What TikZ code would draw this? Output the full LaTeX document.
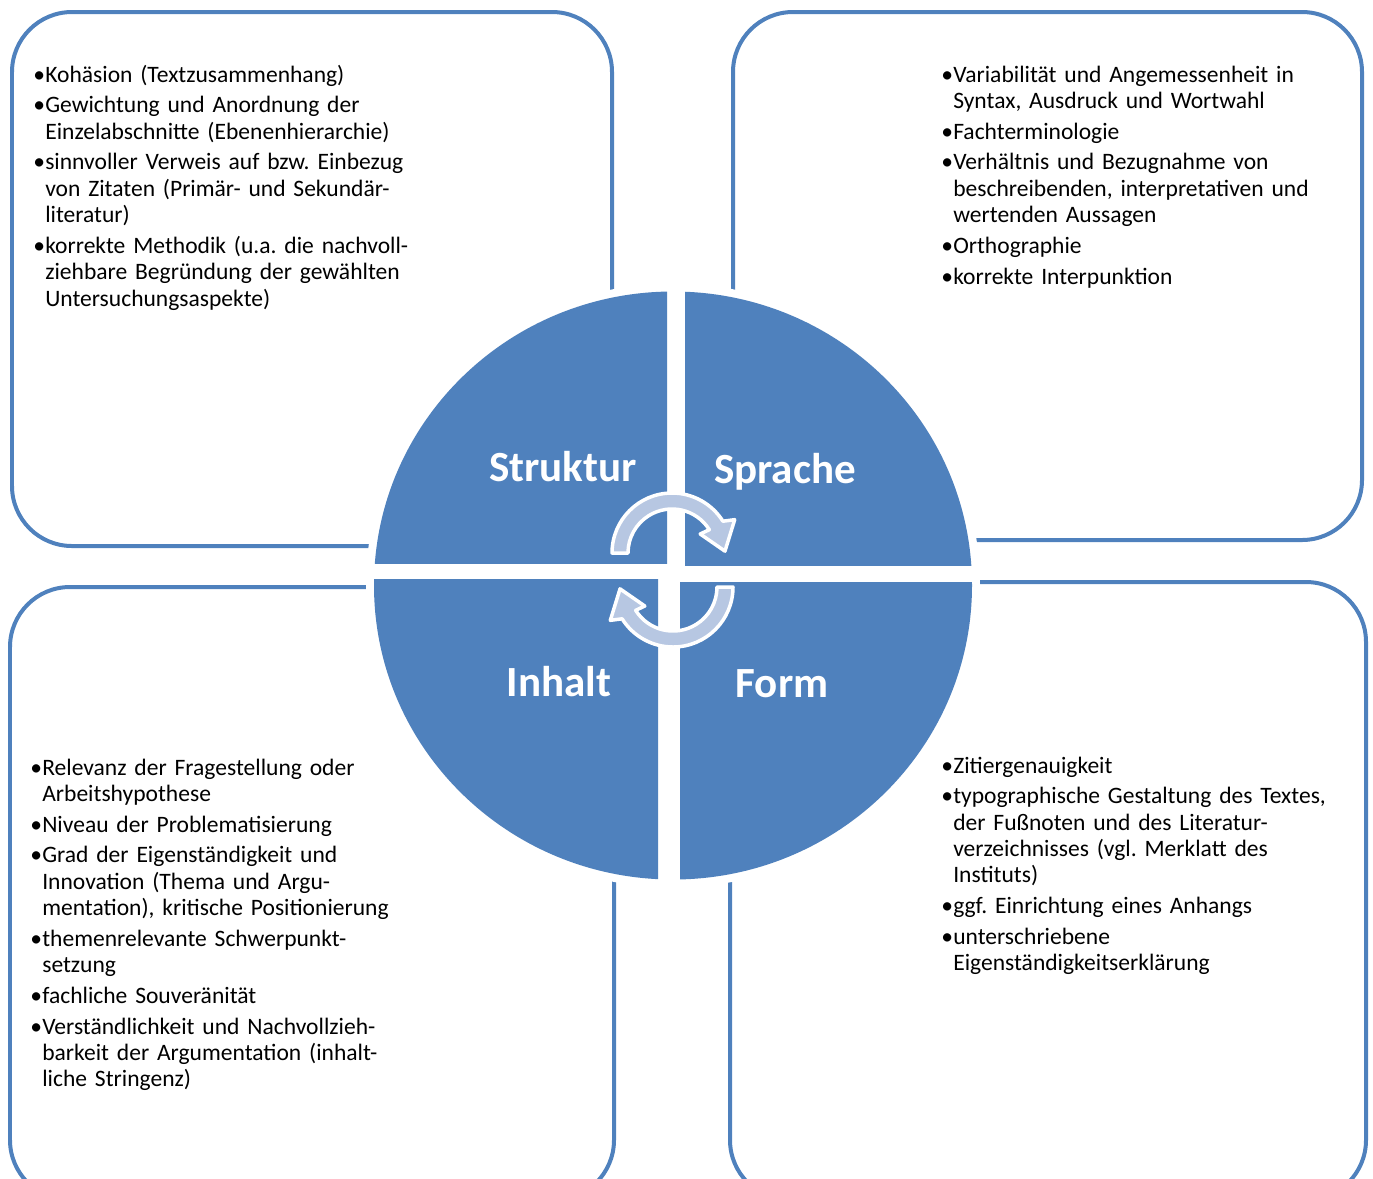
\documentclass[tikz,border=0pt]{standalone}
\usepackage{fontspec}
\setmainfont{Carlito}
\frenchspacing

\definecolor{accent}{HTML}{4F81BD}
\definecolor{arrowfill}{HTML}{B7C7E2}

% bullet item with hanging indent
\newcommand\bul{\par\hangindent=6.8pt\hangafter=1\noindent\makebox[6.8pt][l]{\textbullet}}

\tikzset{
  box/.style={draw=accent, line width=0.08cm, rounded corners=1.2cm},
  qlabel/.style={anchor=base, text=white, font=\bfseries\fontsize{24.5}{29}\selectfont},
  itemtext/.style={anchor=north west, inner sep=0pt, text width=8.4cm,
    font=\fontsize{13.4}{15}\selectfont\setlength{\parskip}{2.5pt}\raggedright},
  cyc/.style={fill=arrowfill, draw=white, line width=0.07cm, line join=round}
}

\begin{document}
\begin{tikzpicture}[x=0.02cm, y=-0.02cm]
\useasboundingbox (0,0) rectangle (1373,1178);

% Frames
\draw[box] (12,12) rectangle (612,546);
\draw[box] (733,12) rectangle (1362,540);
\draw[box] (10,587) rectangle (614,1200);
\draw[box] (730,582) rectangle (1366,1200);

% White halo and the four quarters
\fill[white] (673,585.5) ellipse [x radius=307, y radius=302];
\foreach \xa/\ya/\xb/\yb in {0/0/667/563, 685/0/1373/565, 0/579/658/1178, 680/582/1373/1178}{
  \begin{scope}
    \clip (\xa,\ya) rectangle (\xb,\yb);
    \fill[accent] (673,585.5) ellipse [x radius=299, y radius=294];
  \end{scope}
}

% Quarter labels
\node[qlabel] (struktur) at (563,481) {Struktur};
\node[qlabel] (sprache) at (785,483) {Sprache};
\node[qlabel] (inhalt) at (559,696) {Inhalt};
\node[qlabel] (form) at (782,697) {Form};

% Cycle arrows
\foreach \cx/\cy/\rot in {672/553/0, 673/587/180}{
  \begin{scope}[shift={(\cx,\cy)}, rotate=\rot]
    \filldraw[cyc] (180:60) arc[start angle=180, end angle=328, radius=60]
      -- (332:71) -- (358:53) -- (326:34) -- (328:44)
      arc[start angle=328, end angle=180, radius=44] -- cycle;
  \end{scope}
}

% Criteria lists
\node[itemtext] (strukturlist) at (33,51) {%
\bul Kohäsion (Textzusammenhang)
\bul Gewichtung und Anordnung der\newline Einzelabschnitte (Ebenenhierarchie)
\bul sinnvoller Verweis auf bzw. Einbezug\newline von Zitaten (Primär- und Sekundär-\newline literatur)
\bul korrekte Methodik (u.a. die nachvoll-\newline ziehbare Begründung der gewählten\newline Untersuchungsaspekte)\par};

\node[itemtext] (sprachelist) at (941,51) {%
\bul Variabilität und Angemessenheit in\newline Syntax, Ausdruck und Wortwahl
\bul Fachterminologie
\bul Verhältnis und Bezugnahme von\newline beschreibenden, interpretativen und\newline wertenden Aussagen
\bul Orthographie
\bul korrekte Interpunktion\par};

\node[itemtext] (inhaltlist) at (30,744) {%
\bul Relevanz der Fragestellung oder\newline Arbeitshypothese
\bul Niveau der Problematisierung
\bul Grad der Eigenständigkeit und\newline Innovation (Thema und Argu-\newline mentation), kritische Positionierung
\bul themenrelevante Schwerpunkt-\newline setzung
\bul fachliche Souveränität
\bul Verständlichkeit und Nachvollzieh-\newline barkeit der Argumentation (inhalt-\newline liche Stringenz)\par};

\node[itemtext] (formlist) at (941,742) {%
\bul Zitiergenauigkeit
\bul typographische Gestaltung des Textes,\newline der Fußnoten und des Literatur-\newline verzeichnisses (vgl. Merklatt des\newline Instituts)
\bul ggf. Einrichtung eines Anhangs
\bul unterschriebene\newline Eigenständigkeitserklärung\par};

\end{tikzpicture}
\end{document}
